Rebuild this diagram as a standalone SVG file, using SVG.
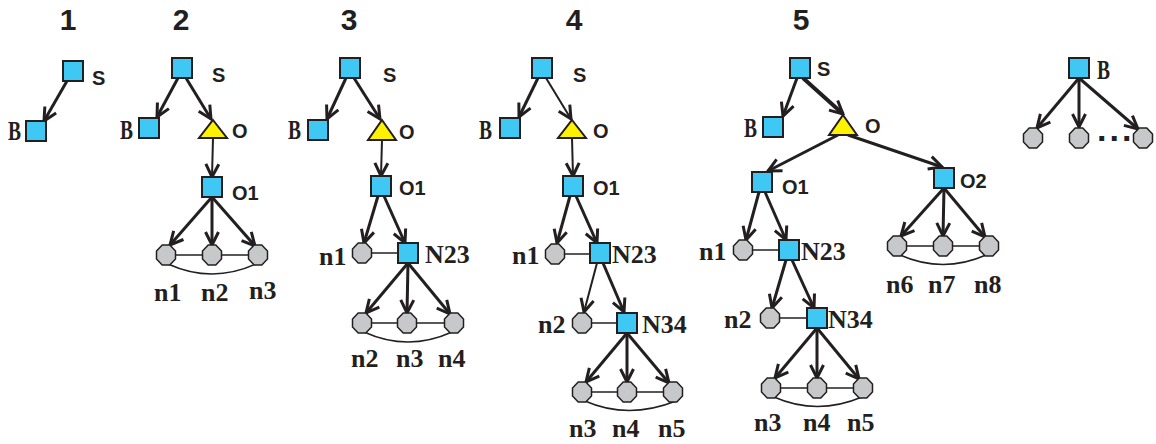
<svg xmlns="http://www.w3.org/2000/svg" xmlns:xlink="http://www.w3.org/1999/xlink" width="1156" height="444" viewBox="0 0 1156 444">
<style>
.title{font-family:"Liberation Sans",Arial,sans-serif;font-weight:bold;font-size:30px;fill:#231f20;text-anchor:middle}
.ls{font-family:"Liberation Sans",Arial,sans-serif;font-weight:bold;font-size:20px;fill:#231f20}
.lr{font-family:"Liberation Serif","Times New Roman",serif;font-weight:bold;font-size:26px;fill:#231f20}
.lb{font-family:"Liberation Serif","Times New Roman",serif;font-weight:bold;font-size:27px;fill:#231f20}
.sq{fill:#40c8f4;stroke:#231f20;stroke-width:2}
.tri{fill:#fff200;stroke:#231f20;stroke-width:2}
.oct{fill:#c7c8ca;stroke:#231f20;stroke-width:1.5}
.a{stroke:#231f20;stroke-width:3;fill:none;marker-end:url(#ah)}
.at{stroke:#231f20;stroke-width:2;fill:none;marker-end:url(#ah)}
.l{stroke:#231f20;stroke-width:1.5;fill:none}
</style>
<defs>
<marker id="ah" markerUnits="userSpaceOnUse" markerWidth="18" markerHeight="18" viewBox="0 0 18 18" refX="16" refY="9" orient="auto">
<path d="M3,2.5 L16,9 L3,15.5" fill="none" stroke="#231f20" stroke-width="3" stroke-linejoin="miter"/>
</marker>
<rect id="sq" class="sq" x="-10" y="-10" width="20" height="20"/>
<polygon id="oct" class="oct" points="3.8,-10 9.5,-4 9.5,4 3.8,10 -3.8,10 -9.5,4 -9.5,-4 -3.8,-10"/>
</defs>

<g id="titles">
<text class="title" x="68" y="30">1</text>
<text class="title" x="181" y="30">2</text>
<text class="title" x="349" y="30">3</text>
<text class="title" x="574" y="30">4</text>
<text class="title" x="801" y="30">5</text>
</g>

<g id="connectors">
<!-- panel 1 -->
<line class="a" x1="67" y1="81" x2="44" y2="121"/>
<!-- panel 2 -->
<line class="a" x1="178" y1="78" x2="157" y2="117"/>
<line class="a" x1="186" y1="78" x2="211" y2="119"/>
<line class="at" x1="213" y1="138" x2="212" y2="177"/>
<line class="a" x1="212" y1="197" x2="170" y2="245"/>
<line class="a" x1="212" y1="197" x2="212" y2="245"/>
<line class="a" x1="212" y1="197" x2="255" y2="246"/>
<line class="l" x1="166" y1="255" x2="258" y2="255"/>
<path class="l" d="M168,264 Q212,284 256,264"/>
<!-- panel 3 -->
<line class="a" x1="346" y1="78" x2="327" y2="119"/>
<line class="a" x1="354" y1="78" x2="380" y2="119"/>
<line class="at" x1="382" y1="140" x2="381" y2="176"/>
<line class="a" x1="378" y1="196" x2="364" y2="243"/>
<line class="a" x1="384" y1="196" x2="405" y2="243"/>
<line class="l" x1="362" y1="253" x2="408" y2="253"/>
<line class="a" x1="408" y1="263" x2="366" y2="313"/>
<line class="a" x1="408" y1="263" x2="407" y2="313"/>
<line class="a" x1="408" y1="263" x2="450" y2="314"/>
<line class="l" x1="362" y1="323" x2="454" y2="323"/>
<path class="l" d="M364,332 Q408,352 452,332"/>
<!-- panel 4 -->
<line class="a" x1="538" y1="78" x2="519" y2="117"/>
<line class="at" x1="546" y1="78" x2="571" y2="119"/>
<line class="at" x1="572" y1="138" x2="573" y2="176"/>
<line class="a" x1="570" y1="196" x2="557" y2="243"/>
<line class="a" x1="576" y1="196" x2="597" y2="243"/>
<line class="l" x1="555" y1="254" x2="600" y2="254"/>
<line class="at" x1="597" y1="263" x2="584" y2="312"/>
<line class="a" x1="603" y1="263" x2="624" y2="312"/>
<line class="l" x1="582" y1="323" x2="627" y2="323"/>
<line class="a" x1="627" y1="333" x2="586" y2="382"/>
<line class="a" x1="627" y1="333" x2="627" y2="382"/>
<line class="a" x1="627" y1="333" x2="669" y2="383"/>
<line class="l" x1="582" y1="392" x2="673" y2="392"/>
<path class="l" d="M585,401 Q628,420 676,401"/>
<!-- panel 5 -->
<line class="a" x1="797" y1="78" x2="783" y2="116"/>
<line class="a" x1="803" y1="78" x2="843" y2="114" style="stroke-width:4"/>
<line class="a" x1="838" y1="135" x2="768" y2="171"/>
<line class="a" x1="848" y1="135" x2="942" y2="167"/>
<line class="a" x1="759" y1="192" x2="746" y2="240"/>
<line class="a" x1="765" y1="192" x2="786" y2="240"/>
<line class="l" x1="743" y1="250" x2="789" y2="250"/>
<line class="a" x1="786" y1="260" x2="772" y2="308"/>
<line class="a" x1="792" y1="260" x2="814" y2="308"/>
<line class="l" x1="770" y1="318" x2="817" y2="318"/>
<line class="a" x1="817" y1="328" x2="775" y2="378"/>
<line class="a" x1="817" y1="328" x2="817" y2="378"/>
<line class="a" x1="817" y1="328" x2="859" y2="379"/>
<line class="l" x1="771" y1="388" x2="863" y2="388"/>
<path class="l" d="M774,397 Q817,416 862,397"/>
<line class="a" x1="944" y1="188" x2="901" y2="236"/>
<line class="a" x1="944" y1="188" x2="943" y2="236"/>
<line class="a" x1="944" y1="188" x2="985" y2="237"/>
<line class="l" x1="897" y1="246" x2="989" y2="246"/>
<path class="l" d="M900,255 Q943,274 986,255"/>
<!-- panel 6 -->
<line class="a" x1="1079" y1="78" x2="1037" y2="128"/>
<line class="a" x1="1079" y1="78" x2="1079" y2="127"/>
<line class="a" x1="1079" y1="78" x2="1138" y2="129"/>
</g>

<!-- panel 1 -->
<g id="p1-S"><use xlink:href="#sq" x="73" y="71"/><text class="ls" x="92" y="85">S</text></g>
<g id="p1-B"><use xlink:href="#sq" x="36" y="131"/><text class="lb" x="8" y="140" textLength="13" lengthAdjust="spacingAndGlyphs">B</text></g>

<!-- panel 2 -->
<g id="p2-S"><use xlink:href="#sq" x="182" y="68"/><text class="ls" x="212" y="82">S</text></g>
<g id="p2-B"><use xlink:href="#sq" x="149" y="128"/><text class="lb" x="120" y="139" textLength="13" lengthAdjust="spacingAndGlyphs">B</text></g>
<g id="p2-O"><polygon class="tri" points="213,120 227,138 199,138"/><text class="ls" x="232" y="138">O</text></g>
<g id="p2-O1"><use xlink:href="#sq" x="212" y="187"/><text class="ls" x="232" y="200">O1</text></g>
<g id="p2-n1"><use xlink:href="#oct" x="166" y="255"/><text class="lr" x="154" y="301">n1</text></g>
<g id="p2-n2"><use xlink:href="#oct" x="212" y="255"/><text class="lr" x="201" y="301">n2</text></g>
<g id="p2-n3"><use xlink:href="#oct" x="258" y="255"/><text class="lr" x="249" y="299">n3</text></g>

<!-- panel 3 -->
<g id="p3-S"><use xlink:href="#sq" x="350" y="68"/><text class="ls" x="383" y="82">S</text></g>
<g id="p3-B"><use xlink:href="#sq" x="318" y="130"/><text class="lb" x="288" y="139" textLength="13" lengthAdjust="spacingAndGlyphs">B</text></g>
<g id="p3-O"><polygon class="tri" points="382,120 396,140 368,140"/><text class="ls" x="399" y="139">O</text></g>
<g id="p3-O1"><use xlink:href="#sq" x="381" y="186"/><text class="ls" x="399" y="195">O1</text></g>
<g id="p3-n1"><use xlink:href="#oct" x="362" y="253"/><text class="lr" x="319" y="265">n1</text></g>
<g id="p3-N23"><use xlink:href="#sq" x="408" y="253"/><text class="lr" x="425" y="263">N23</text></g>
<g id="p3-n2"><use xlink:href="#oct" x="362" y="323"/><text class="lr" x="351" y="367">n2</text></g>
<g id="p3-n3"><use xlink:href="#oct" x="407" y="323"/><text class="lr" x="396" y="367">n3</text></g>
<g id="p3-n4"><use xlink:href="#oct" x="454" y="323"/><text class="lr" x="438" y="367">n4</text></g>

<!-- panel 4 -->
<g id="p4-S"><use xlink:href="#sq" x="542" y="68"/><text class="ls" x="573" y="82">S</text></g>
<g id="p4-B"><use xlink:href="#sq" x="510" y="128"/><text class="lb" x="479" y="139" textLength="13" lengthAdjust="spacingAndGlyphs">B</text></g>
<g id="p4-O"><polygon class="tri" points="572,120 586,138 558,138"/><text class="ls" x="593" y="138">O</text></g>
<g id="p4-O1"><use xlink:href="#sq" x="573" y="186"/><text class="ls" x="593" y="195">O1</text></g>
<g id="p4-n1"><use xlink:href="#oct" x="555" y="254"/><text class="lr" x="512" y="264">n1</text></g>
<g id="p4-N23"><use xlink:href="#sq" x="600" y="253"/><text class="lr" x="612" y="263">N23</text></g>
<g id="p4-n2"><use xlink:href="#oct" x="582" y="323"/><text class="lr" x="538" y="333">n2</text></g>
<g id="p4-N34"><use xlink:href="#sq" x="627" y="323"/><text class="lr" x="642" y="333">N34</text></g>
<g id="p4-n3"><use xlink:href="#oct" x="582" y="392"/><text class="lr" x="569" y="437">n3</text></g>
<g id="p4-n4"><use xlink:href="#oct" x="627" y="392"/><text class="lr" x="612" y="437">n4</text></g>
<g id="p4-n5"><use xlink:href="#oct" x="673" y="392"/><text class="lr" x="658" y="437">n5</text></g>

<!-- panel 5 -->
<g id="p5-S"><use xlink:href="#sq" x="800" y="68"/><text class="ls" x="817" y="76">S</text></g>
<g id="p5-B"><use xlink:href="#sq" x="773" y="127"/><text class="lb" x="744" y="137" textLength="13" lengthAdjust="spacingAndGlyphs">B</text></g>
<g id="p5-O"><polygon class="tri" points="843,115 857,135 829,135"/><text class="ls" x="865" y="133">O</text></g>
<g id="p5-O1"><use xlink:href="#sq" x="762" y="182"/><text class="ls" x="782" y="194">O1</text></g>
<g id="p5-O2"><use xlink:href="#sq" x="944" y="178"/><text class="ls" x="960" y="188">O2</text></g>
<g id="p5-n1"><use xlink:href="#oct" x="743" y="250"/><text class="lr" x="699" y="260">n1</text></g>
<g id="p5-N23"><use xlink:href="#sq" x="789" y="250"/><text class="lr" x="801" y="260">N23</text></g>
<g id="p5-n2"><use xlink:href="#oct" x="770" y="318"/><text class="lr" x="724" y="328">n2</text></g>
<g id="p5-N34"><use xlink:href="#sq" x="817" y="318"/><text class="lr" x="828" y="328">N34</text></g>
<g id="p5-n3"><use xlink:href="#oct" x="771" y="388"/><text class="lr" x="754" y="431">n3</text></g>
<g id="p5-n4"><use xlink:href="#oct" x="817" y="388"/><text class="lr" x="803" y="431">n4</text></g>
<g id="p5-n5"><use xlink:href="#oct" x="863" y="388"/><text class="lr" x="847" y="431">n5</text></g>
<g id="p5-n6"><use xlink:href="#oct" x="897" y="246"/><text class="lr" x="886" y="293">n6</text></g>
<g id="p5-n7"><use xlink:href="#oct" x="943" y="246"/><text class="lr" x="928" y="293">n7</text></g>
<g id="p5-n8"><use xlink:href="#oct" x="989" y="246"/><text class="lr" x="974" y="293">n8</text></g>

<!-- panel 6 -->
<g id="p6-B"><use xlink:href="#sq" x="1079" y="68"/><text class="lb" x="1097" y="79" textLength="13" lengthAdjust="spacingAndGlyphs">B</text></g>
<g id="p6-c1"><use xlink:href="#oct" x="1033" y="138"/></g>
<g id="p6-c2"><use xlink:href="#oct" x="1079" y="138"/></g>
<g id="p6-dots"><text class="ls" x="1097" y="141" style="font-size:34px;letter-spacing:3px">...</text></g>
<g id="p6-c3"><use xlink:href="#oct" x="1143" y="138"/></g>
</svg>
